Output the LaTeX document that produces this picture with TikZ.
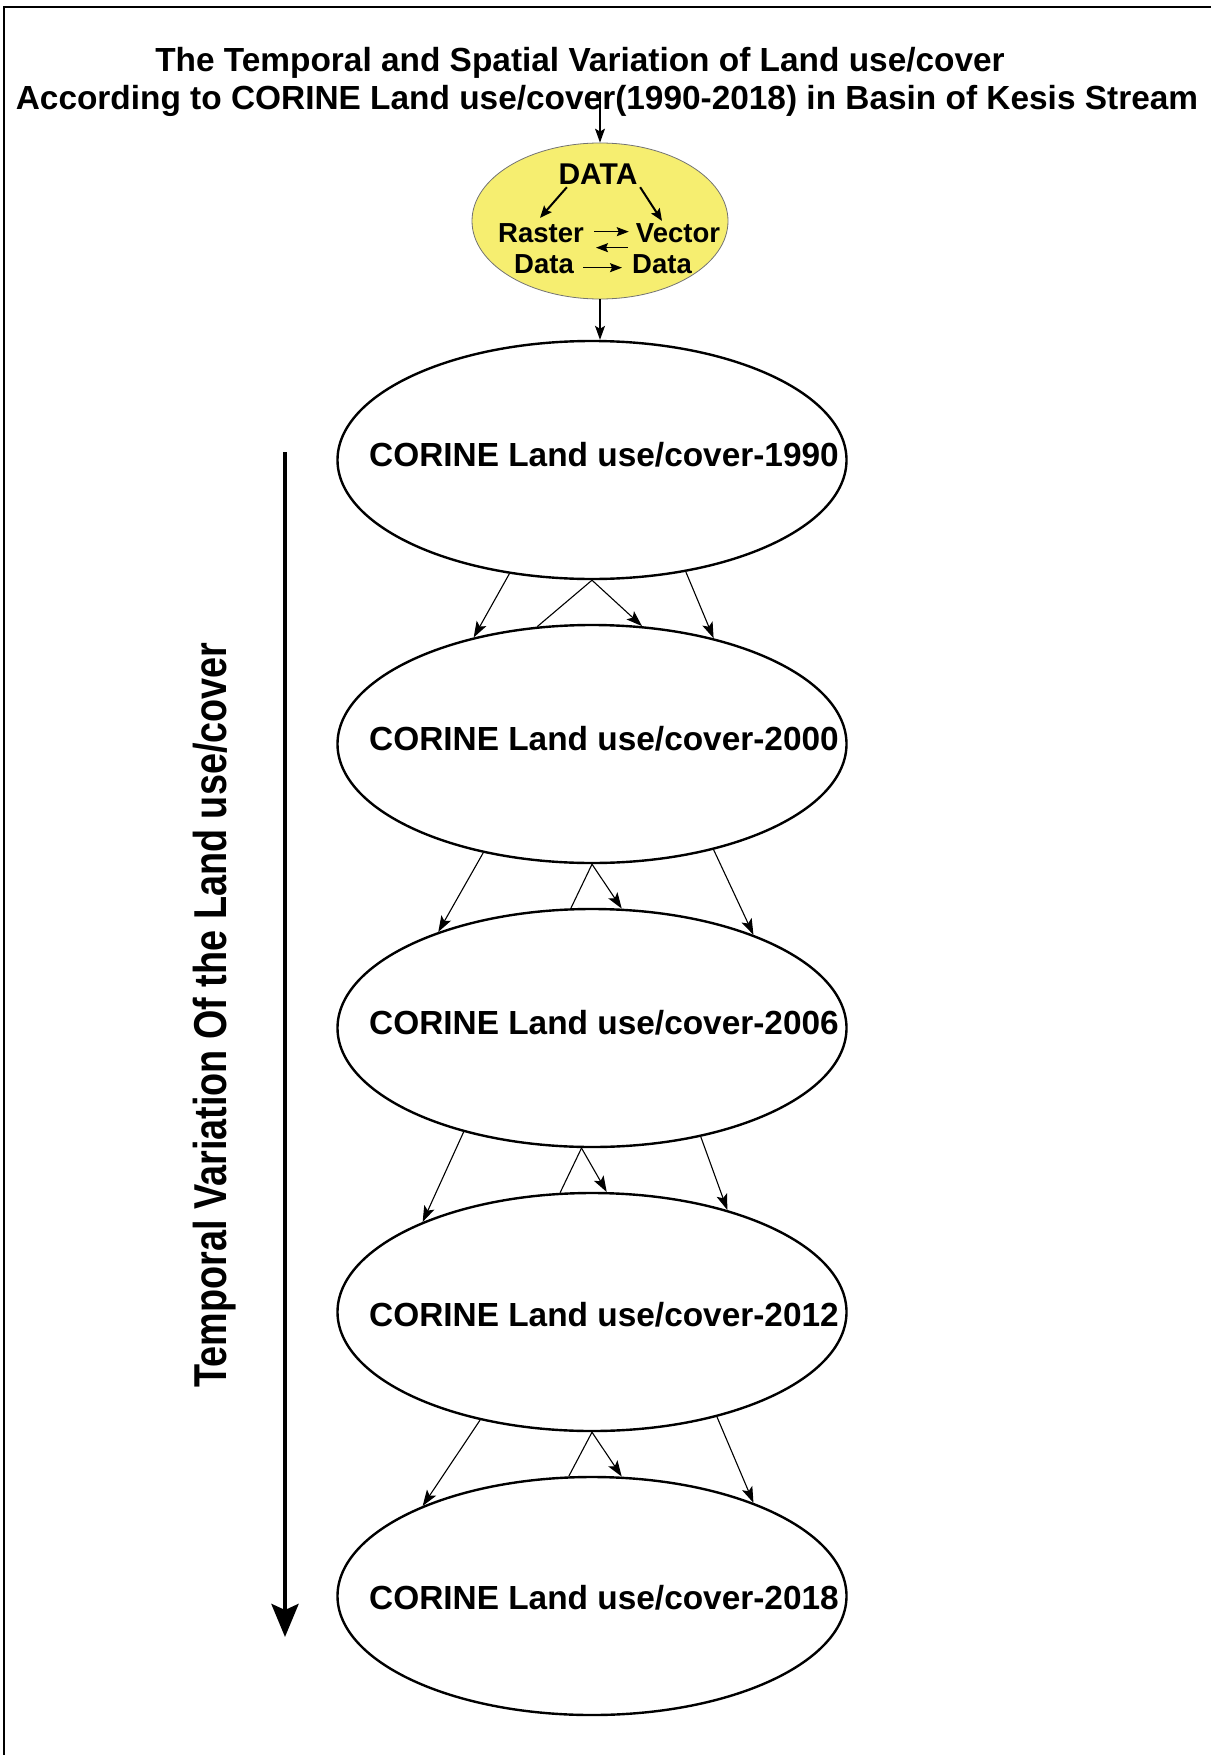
\documentclass[tikz,border=0pt]{standalone}
\usepackage{fontspec}
\setmainfont{Liberation Sans}
\usetikzlibrary{shapes.geometric,arrows.meta,calc}
\definecolor{datayellow}{RGB}{246,238,112}
\begin{document}
\begin{tikzpicture}[x=1pt,y=-1pt,
  bigell/.style={ellipse,draw,line width=2.4pt,minimum width=509pt,minimum height=238pt,inner sep=0pt},
  elltext/.style={font=\fontsize{33.4}{38}\selectfont\bfseries,inner sep=0pt,anchor=base},
  conn/.style={line width=1.1pt,-{Stealth[length=16pt,width=11pt,inset=3.5pt]}},
  plainln/.style={line width=1.1pt},
  titlef/.style={font=\fontsize{33.4}{38.5}\selectfont\bfseries,inner sep=0pt,anchor=base},
  smallf/.style={font=\fontsize{27.5}{30}\selectfont\bfseries,inner sep=0pt,anchor=base},
  inarr/.style={line width=2pt,-{Stealth[length=12pt,width=10pt,inset=2pt]}},
  thinarr/.style={line width=1.3pt,-{Stealth[length=12pt,width=9pt,inset=2pt]}}]
\useasboundingbox (0,0) rectangle (1211,1755);
% frame
\draw[line width=2.4pt] (4,1755) -- (4,7) -- (1211,7);
% title
\node[titlef] (t1) at (580,71.5) {The Temporal and Spatial Variation of Land use/cover};
\node[titlef] (t2) at (607,110) {According to CORINE Land use/cover(1990-2018) in Basin of Kesis Stream};
\coordinate (t0) at (600,92);
% data ellipse
\node[ellipse,fill=datayellow,draw=black!55,line width=0.8pt,minimum width=256pt,minimum height=156pt,inner sep=0pt] (data) at (600,221) {};
\node[smallf,font=\fontsize{30}{32}\selectfont\bfseries] (dtxt) at (598,185) {DATA};
\node[smallf] (raster) at (541,242) {Raster};
\node[smallf] (vector) at (678,242) {Vector};
\node[smallf] (data1) at (544,273) {Data};
\node[smallf] (data2) at (662,273) {Data};
\draw[inarr] ($(dtxt.south west)+(8.5,2)$) -- ($(raster.north)+(-1,-5)$);
\draw[inarr] ($(dtxt.south east)+(2.5,2)$) -- ($(vector.north)+(-16,-2)$);
\draw[thinarr] ($(raster.east)+(10,-1)$) -- ($(vector.west)+(-7,-1)$);
\draw[thinarr] ($(vector.west)+(-8,15)$) -- ($(raster.east)+(12,15)$);
\draw[thinarr] ($(data1.east)+(9,4)$) -- ($(data2.west)+(-10,4)$);
\draw[line width=1.1pt,-{Stealth[length=14pt,width=10pt,inset=3pt]}] (t0) -- (data.north);
% big ellipses
\node[bigell] (e1) at (592,460) {};
\node[bigell] (e2) at (592,744) {};
\node[bigell] (e3) at (592,1028) {};
\node[bigell] (e4) at (592,1312) {};
\node[bigell] (e5) at (592,1596) {};
\node[elltext] (l1) at ($(e1.center)+(12,6)$) {CORINE Land use/cover-1990};
\node[elltext] (l2) at ($(e2.center)+(12,6)$) {CORINE Land use/cover-2000};
\node[elltext] (l3) at ($(e3.center)+(12,6)$) {CORINE Land use/cover-2006};
\node[elltext] (l4) at ($(e4.center)+(12,14)$) {CORINE Land use/cover-2012};
\node[elltext] (l5) at ($(e5.center)+(12,13)$) {CORINE Land use/cover-2018};
\draw[line width=1.1pt,-{Stealth[length=14pt,width=10pt,inset=3pt]}] (data.south) -- (data.south |- e1.north);
% connectors e1->e2
\draw[conn] (e1.234) -- (e2.138);
\draw[plainln] (e1.south) -- (e2.115);
\draw[conn] (e1.south) -- (e2.67);
\draw[conn] (e1.310) -- (e2.41);
% e2->e3
\draw[conn] (e2.225) -- (e3.148);
\draw[plainln] (e2.south) -- (e3.100);
\draw[conn] (e2.south) -- (e3.76);
\draw[conn] (e2.319) -- (e3.30);
% e3->e4
\draw[conn] (e3.219) -- (e4.152);
\draw[plainln] (e3.265) -- (e4.105);
\draw[conn] (e3.265) -- (e4.83);
\draw[conn] (e3.315) -- (e4.37);
% e4->e5
\draw[conn] (e4.224) -- (e5.152);
\draw[plainln] (e4.south) -- (e5.101);
\draw[conn] (e4.south) -- (e5.76);
\draw[conn] (e4.320) -- (e5.30);
% temporal arrow
\node[rotate=90,anchor=base,inner sep=0pt,font=\fontsize{37.8}{40}\selectfont\bfseries] (rot) at (226,1015) {\scalebox{1}[1.22]{Temporal Variation Of the Land use/cover}};
\coordinate (bt) at (285,452);
\coordinate (bb) at (285,1637);
\draw[line width=4.5pt,-{Stealth[length=33pt,width=27pt,inset=6pt]}] (bt) -- (bb);
\end{tikzpicture}
\end{document}
